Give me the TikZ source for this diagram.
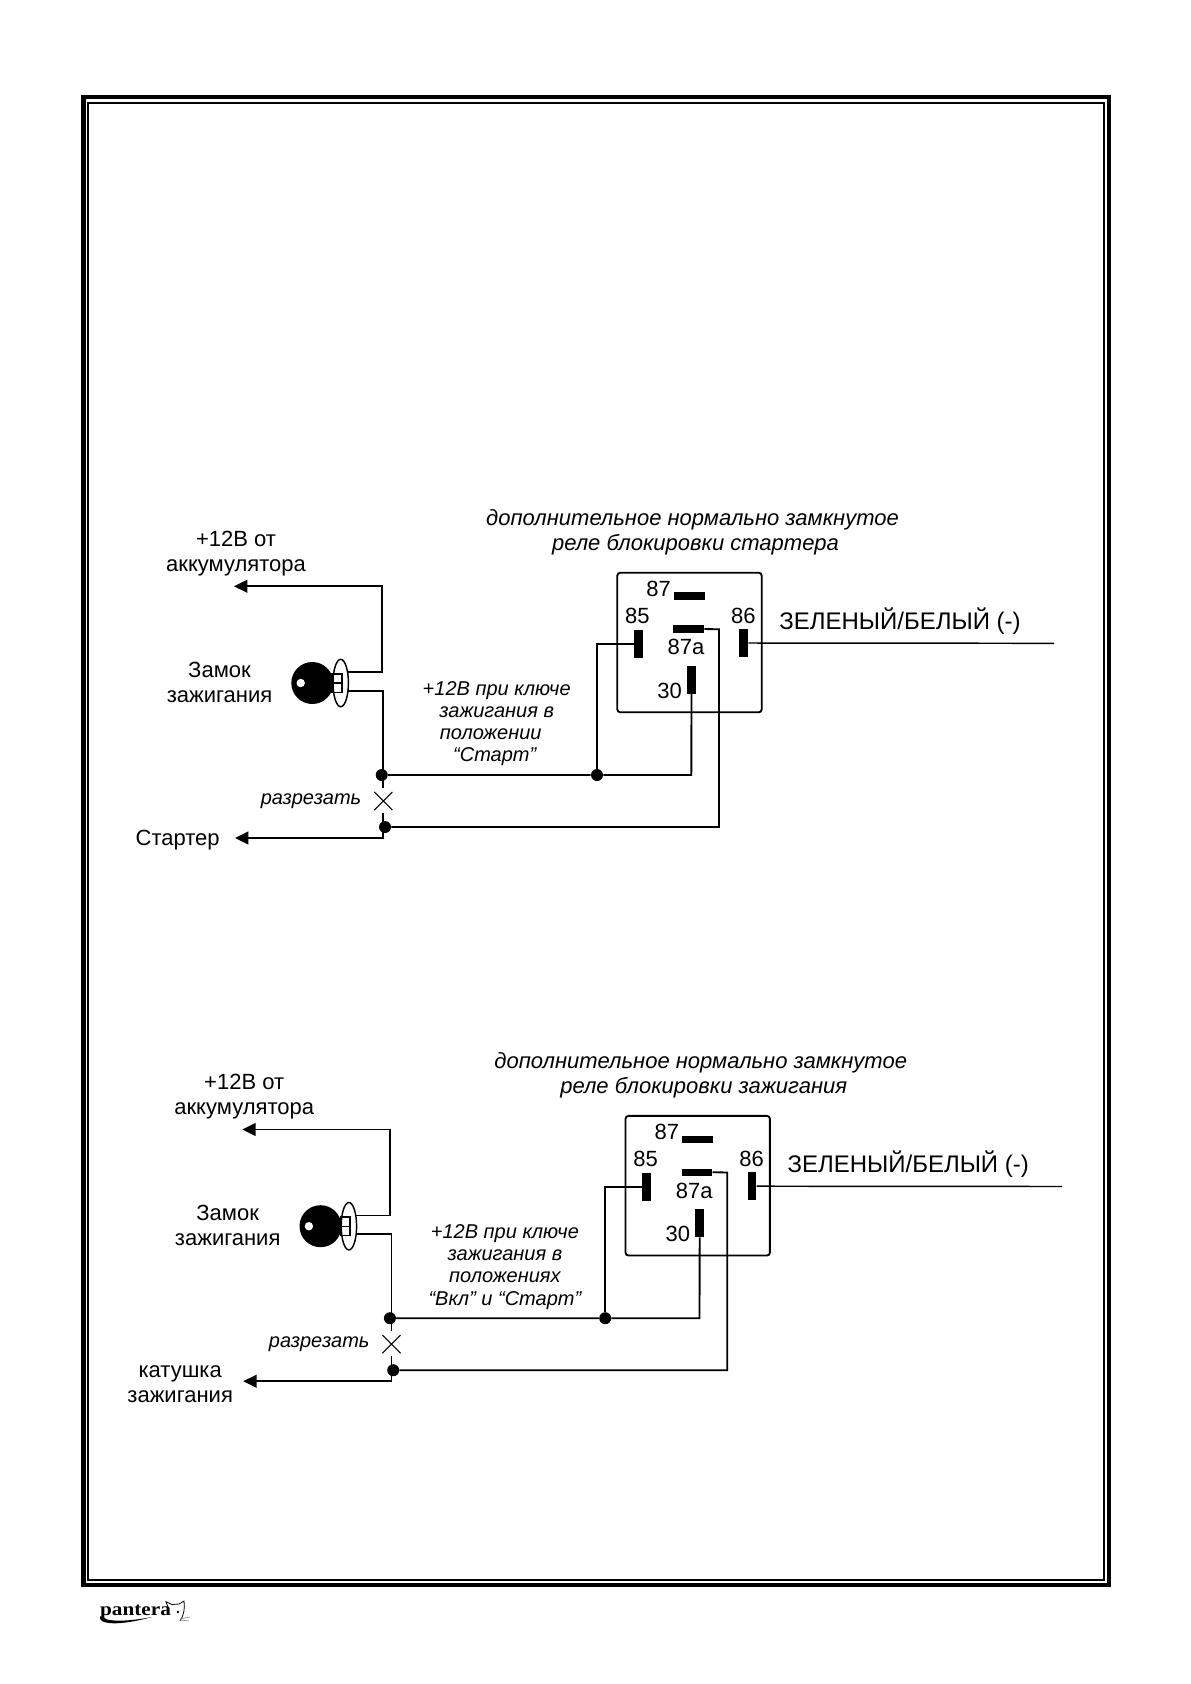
\documentclass[tikz,border=0pt]{standalone}
\usepackage{fontspec}
\setmainfont{Liberation Sans}
\newfontfamily\logofont{Liberation Serif}
\usetikzlibrary{arrows.meta,shapes.geometric,shapes.misc}

\tikzset{
  wire/.style={line width=1.4pt},
  wirearrow/.style={wire, -{Triangle[length=10pt,width=9.5pt]}},
  thinwire/.style={line width=1.1pt},
  junction/.style={circle, fill=black, inner sep=0pt, minimum size=9pt},
  pinh/.style={rectangle, fill=black, inner sep=0pt, minimum width=23pt, minimum height=5.5pt},
  pinv/.style={rectangle, fill=black, inner sep=0pt, minimum width=6.5pt, minimum height=20.7pt},
  labeltext/.style={align=center, inner sep=0pt, font=\fontsize{16.5}{18.75}\selectfont},
  pintext/.style={inner sep=0pt, font=\fontsize{16.5}{18.75}\selectfont},
  notetext/.style={align=center, inner sep=0pt, font=\fontsize{15}{16.7}\selectfont\itshape},
  titletext/.style={align=center, inner sep=0pt, font=\fontsize{16.5}{18.75}\selectfont\itshape},
  framebig/.style={line width=3.4pt},
  framesmall/.style={line width=1.4pt}
}

% one ignition lock with its relay: title line, note, lower label place and text
\newcommand{\lockrelay}[4]{
  \coordinate (lockup) at (348, 672.3);
  \coordinate (lockdown) at (348, 690.7);
  \coordinate (battend) at (234, 586.3);
  \coordinate (cuttop) at (383.3, 788);
  \coordinate (cutbot) at (383.3, 813);
  \coordinate (lowend) at (235, 838);
  \coordinate (bend) at (719, 629.3);
  \coordinate (mainend) at (691.3, 775);
  \coordinate (greenend) at (1054, 643.3);
  % lock
  \node[ellipse, draw, fill=white, thinwire, inner sep=0pt, minimum width=15.4*.75pt, minimum height=47.4*.75pt] (lockring) at (340.7, 683) {};
  \node[rectangle, draw, thinwire, inner sep=0pt, minimum width=7.2pt, minimum height=7.1pt] (barup) at (337, 678.5) {};
  \node[rectangle, draw, thinwire, inner sep=0pt, minimum width=7.2pt, minimum height=7.1pt] (bardown) at (337, 687.8) {};
  \node[circle, fill=black, inner sep=0pt, minimum size=31.5pt] (key) at (312.3, 683) {};
  \node[circle, fill=white, inner sep=0pt, minimum size=6.3pt] (keyhole) at (300.7, 683) {};
  % relay box
  \node[rectangle, draw, wire, rounded corners=2.2pt, inner sep=0pt, minimum width=108.3pt, minimum height=104.7pt] (relay) at (689.5, 642.5) {};
  \node[pinh] (pin87) at (689.3, 596) {};
  \node[pinh] (pin87a) at (688.7, 629) {};
  \node[pinv] (pin85) at (638.5, 643.7) {};
  \node[pinv] (pin86) at (743.7, 643) {};
  \node[pinv] (pin30) at (691.5, 680) {};
  \node[pintext] (lbl87) at (658.7, 589) {87};
  \node[pintext] (lbl85) at (637.3, 616) {85};
  \node[pintext] (lbl86) at (743.3, 616) {86};
  \node[pintext] (lbl87a) at (686, 647.3) {87a};
  \node[pintext] (lbl30) at (669.7, 690.7) {30};
  % junctions
  \node[junction] (dotin) at (381.7, 775) {};
  \node[junction] (dotcoil) at (597, 775) {};
  \node[junction] (dotout) at (385, 827) {};
  \node[cross out, draw, line width=.8pt, inner sep=0pt, minimum size=12.8pt] (cut) at (383.3, 801) {};
  % wires
  \draw[wirearrow] (lockup) -| (381.7, 586.3) -- (battend);
  \draw[wire] (lockdown) -| (cuttop);
  \draw[wirearrow] (cutbot) |- (lowend);
  \draw[wire] (dotin) -- (dotcoil) -- (mainend) -- (pin30.south);
  \draw[wire] (dotcoil) |- (pin85.west);
  \draw[wire] (dotout) -| (bend) -- (pin87a.east);
  \draw[thinwire] (pin86.east) -- (greenend);
  % texts
  \node[labeltext] (battlabel) at (236, 553.5) {+12В от\\аккумулятора};
  \node[labeltext] (locklabel) at (219.5, 682) {Замок\\зажигания};
  \node[notetext] (cutlabel) at (311, 801) {разрезать};
  \node[labeltext] (lowlabel) at #3 {#4};
  \node[labeltext, font=\fontsize{18}{20}\selectfont] (greenlabel) at (900, 620.7) {ЗЕЛЕНЫЙ/БЕЛЫЙ (-)};
  \node[titletext] (title) at (692.5, 532.5) {#1};
  \node[notetext] (note) at (496.7, 723.5) {#2};
}

\begin{document}
\begin{tikzpicture}[x=.75pt, y=-.75pt]
  \useasboundingbox (0, 0) rectangle (1190, 1684);
  % double frame
  \draw[framebig] (83.3, 97.2) rectangle (1108.8, 1584.8);
  \draw[framesmall] (88.2, 103.2) rectangle (1104.2, 1580);

  \begin{scope}[name prefix=upper-]
    \lockrelay{дополнительное нормально замкнутое\\\rule{4.5pt}{0pt}реле блокировки стартера}
      {+12В при ключе\\зажигания в\\положении\rule{9pt}{0pt}\\“Старт”\rule{3pt}{0pt}}
      {(177.7, 840)}{Стартер}
  \end{scope}
  \begin{scope}[shift={(8.2, 543.2)}, name prefix=lower-]
    \lockrelay{дополнительное нормально замкнутое\\\rule{4.5pt}{0pt}реле блокировки зажигания}
      {+12В при ключе\\зажигания в\\положениях\\“Вкл” и “Старт”}
      {(172, 840.5)}{катушка\\зажигания}
  \end{scope}

  % maker's mark
  \node[inner sep=0pt, xscale=1.14, transform shape, font=\logofont\bfseries\fontsize{14}{15}\selectfont] (logo) at (135.5, 1612.5) {pantera};
  \fill (100, 1616) .. controls (97, 1625) and (120, 1626) .. (152, 1617)
    .. controls (125, 1622) and (106, 1622) .. (100, 1616);
  \draw[line width=.6pt] (168, 1607) -- (166, 1601.7) -- (172, 1604.5) -- (179, 1604) -- (184, 1601)
    .. controls (185, 1608) and (184, 1615) .. (180, 1621);
  \fill (178, 1612) circle (1pt);
  \draw[line width=.5pt, black!45] (180, 1619) -- (190, 1617) (180, 1620) -- (189, 1621);
\end{tikzpicture}
\end{document}
